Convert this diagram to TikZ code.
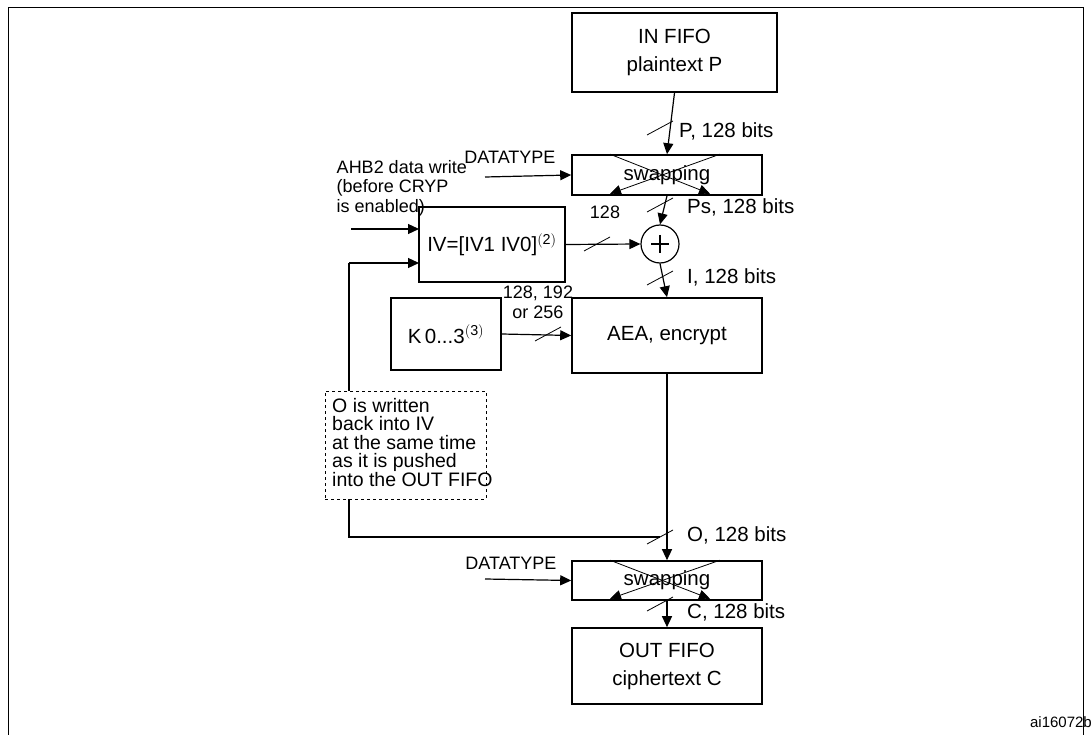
\documentclass[tikz,border=0pt]{standalone}
\usepackage{fontspec}
\setmainfont{Liberation Sans}
\usetikzlibrary{positioning,arrows.meta}

\begin{document}
\begin{tikzpicture}[
  x=1pt, y=-1pt,
  font=\fontsize{20.5}{24}\selectfont,
  blk/.style={draw, line width=1.6pt, align=center, inner sep=0pt},
  arr/.style={-{Triangle[length=11pt,width=10pt]}, line width=1.2pt},
  ln/.style={line width=1.2pt},
  sl/.style={line width=0.8pt},
  lbl/.style={inner sep=1pt, anchor=west},
  small/.style={font=\fontsize{18}{20}\selectfont}
]
\useasboundingbox (0,0) rectangle (1092,735);
\draw[line width=1pt] (8,735) -- (8,8) -- (1083,8) -- (1083,735);

% blocks
\node[blk, minimum width=205pt, minimum height=79pt] (inFifo) at (674.5,52.5) {IN FIFO\\[4pt]plaintext P};
\node[blk, minimum width=190pt, minimum height=40pt] (swapA) at (667,175) {};
\node[blk, minimum width=146pt, minimum height=75pt] (iv) at (492,244.5) {IV=[IV1 IV0]$^{\mathrm{(2)}}$};
\node[draw, circle, line width=1.2pt, minimum size=38pt, inner sep=0pt] (xor) at (660,244) {};
\node[blk, minimum width=190pt, minimum height=75pt] (aea) at (667,335.5) {AEA, encrypt};
\node[blk, minimum width=110pt, minimum height=72pt] (key) at (446,334) {K\,0...3$^{\mathrm{(3)}}$};
\node[blk, minimum width=190pt, minimum height=39pt] (swapB) at (667,580.5) {};
\node[blk, minimum width=190pt, minimum height=76pt] (outFifo) at (667,666) {OUT FIFO\\[4pt]ciphertext C};

% feedback path, then the note drawn over it
\coordinate (oTap) at (660,537);
\draw[ln] (oTap) -- (349,537) -- (349,263);
\draw[arr] (349,263) -- (419,263);
\node[draw, dashed, line width=1pt, fill=white, minimum width=161pt, minimum height=108pt] (note) at (405.5,445) {};
\node[align=left, anchor=north west, inner sep=0pt, font=\fontsize{19.5}{18.5}\selectfont] at (332,398) {O is written\\back into IV\\at the same time\\as it is pushed\\into the OUT FIFO};

% swapping crosses
\foreach \s in {swapA,swapB}{
  \node at (\s) {swapping};
  \draw[arr, line width=0.8pt] ([xshift=-57pt]\s.north) -- ([xshift=43pt,yshift=2pt]\s.south);
  \draw[arr, line width=0.8pt] ([xshift=53pt]\s.north) -- ([xshift=-57pt,yshift=2pt]\s.south);
}
\draw[line width=2.4pt] (xor.center) ++(-9,0) -- ++(18,0) (xor.center) ++(0,-9) -- ++(0,18);

% data path
\draw[arr] (inFifo.south) -- (swapA.north);
\draw[arr] (swapA.south) -- (xor.north);
\draw[arr] (xor.south) -- (aea.north);
\draw[arr] (iv.east) -- (xor.west);
\draw[arr] (key.east) -- (aea.west);
\draw[arr] (aea.south) -- (swapB.north);
\draw[arr] (swapB.south) -- (outFifo.north);
\draw[arr] (351,229) -- (419,229);
\draw[arr] (485,177) -- (swapA.west);
\draw[arr] (485,579) -- (swapB.west);

% bus slashes
\foreach \x/\y in {660/128, 660/205, 660/278, 597/244, 548/334, 660/537, 660/604}
  \draw[sl] (\x-13,\y+7) -- (\x+13,\y-7);

% labels
\node[lbl] at (678,131) {P, 128 bits};
\node[lbl] at (686,207) {Ps, 128 bits};
\node[lbl] at (686,277) {I, 128 bits};
\node[lbl] at (686,535) {O, 128 bits};
\node[lbl] at (686,612) {C, 128 bits};
\node[anchor=south, small] at (605,222) {128};
\node[align=center, small] at (538,302) {128, 192\\or 256};
\node[anchor=east, small] at (559,157) {DATATYPE};
\node[anchor=east, small] at (560,563) {DATATYPE};
\node[align=left, anchor=north east, font=\fontsize{18}{19.5}\selectfont, inner sep=0pt] at (467,160) {AHB2 data write\\(before CRYP\\is enabled)};
\node[anchor=east, font=\fontsize{15}{17}\selectfont, inner sep=0pt] at (1092,722) {ai16072b};
\end{tikzpicture}
\end{document}
